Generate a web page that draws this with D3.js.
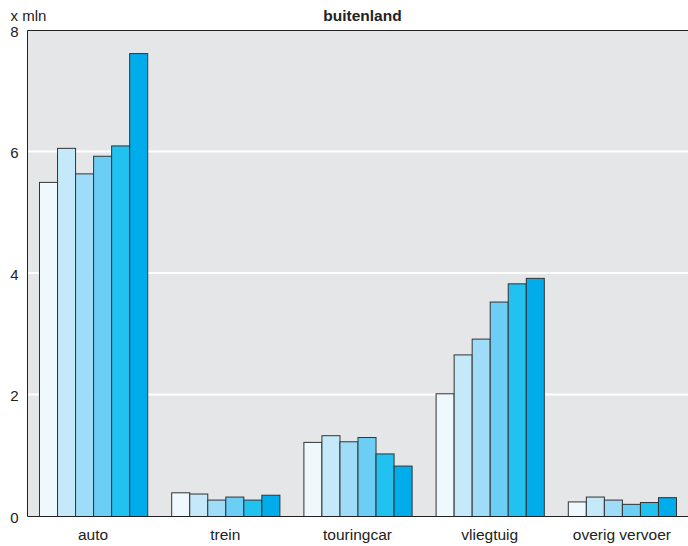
<!DOCTYPE html>
<html><head><meta charset="utf-8">
<script src="https://cdn.jsdelivr.net/npm/d3@7"></script>
<style>body{margin:0;background:#fff}svg{display:block;font-family:"Liberation Sans",Arial,sans-serif}</style>
</head><body><svg id="c" width="688" height="546"></svg>
<script>
const categories = ["auto","trein","touringcar","vliegtuig","overig vervoer"];
const seriesNames = ["reeks 1","reeks 2","reeks 3","reeks 4","reeks 5","reeks 6"];
const values = [
  [5.50, 6.06, 5.64, 5.93, 6.10, 7.62],
  [0.39, 0.37, 0.27, 0.32, 0.27, 0.35],
  [1.22, 1.33, 1.23, 1.30, 1.03, 0.83],
  [2.02, 2.66, 2.92, 3.53, 3.83, 3.92],
  [0.24, 0.32, 0.27, 0.20, 0.23, 0.31]
];
const yTicks = [0,2,4,6,8];
const colors = ["#eef8fd","#c5e9f9","#9fdcf7","#6ccef5","#22c2f0","#00acea"];

const svg = d3.select("#c");
const m = {l:27, r:0, t:30, b:30};
const W = 688, H = 546;
const x = d3.scaleBand().domain(categories).range([m.l, W-m.r]).paddingInner(0).paddingOuter(0);
const inner = 12;
const xs = d3.scaleBand().domain(seriesNames).range([inner, x.bandwidth()-inner]);
const y = d3.scaleLinear().domain([0,8]).range([H-m.b, m.t]);

svg.append("rect").attr("x",m.l).attr("y",m.t).attr("width",W-m.r-m.l).attr("height",y(0)-m.t).attr("fill","#e5e6e8");
svg.append("g").selectAll("line").data(yTicks.filter(d=>d>0&&d<8)).join("line")
  .attr("x1",m.l).attr("x2",W-m.r).attr("y1",d=>y(d)).attr("y2",d=>y(d))
  .attr("stroke","#fff").attr("stroke-width",2);

const g = svg.append("g").selectAll("g").data(values).join("g")
  .attr("transform",(d,i)=>`translate(${x(categories[i])},0)`);
g.selectAll("rect").data(d=>d).join("rect")
  .attr("x",(d,j)=>xs(seriesNames[j])+0.5)
  .attr("y",d=>y(d)+0.5)
  .attr("width",xs.bandwidth())
  .attr("height",d=>y(0)-y(d))
  .attr("fill",(d,j)=>colors[j])
  .attr("stroke","#333").attr("stroke-width",1);

// frame
svg.append("path").attr("d",`M${W},${m.t+0.5}H${m.l+0.5}V${y(0)+0.5}H${W}`).attr("fill","none").attr("stroke","#222").attr("stroke-width",1);

// y axis labels
svg.append("g").selectAll("text").data(yTicks).join("text")
  .attr("x",18.5).attr("y",d=>y(d)+6.5).attr("text-anchor","end")
  .attr("font-size",15).attr("fill","#222").text(d=>d);
svg.append("text").attr("x",10.5).attr("y",20.5).attr("font-size",15).attr("fill","#222").text("x mln");

// x axis labels
svg.append("g").selectAll("text").data(categories).join("text")
  .attr("x",d=>x(d)+x.bandwidth()/2).attr("y",539.5).attr("text-anchor","middle")
  .attr("font-size",15.5).attr("fill","#222").text(d=>d);

svg.append("text").attr("x",362.5).attr("y",20.5).attr("text-anchor","middle")
  .attr("font-size",15.5).attr("font-weight","bold").attr("fill","#222").text("buitenland");
</script></body></html>
